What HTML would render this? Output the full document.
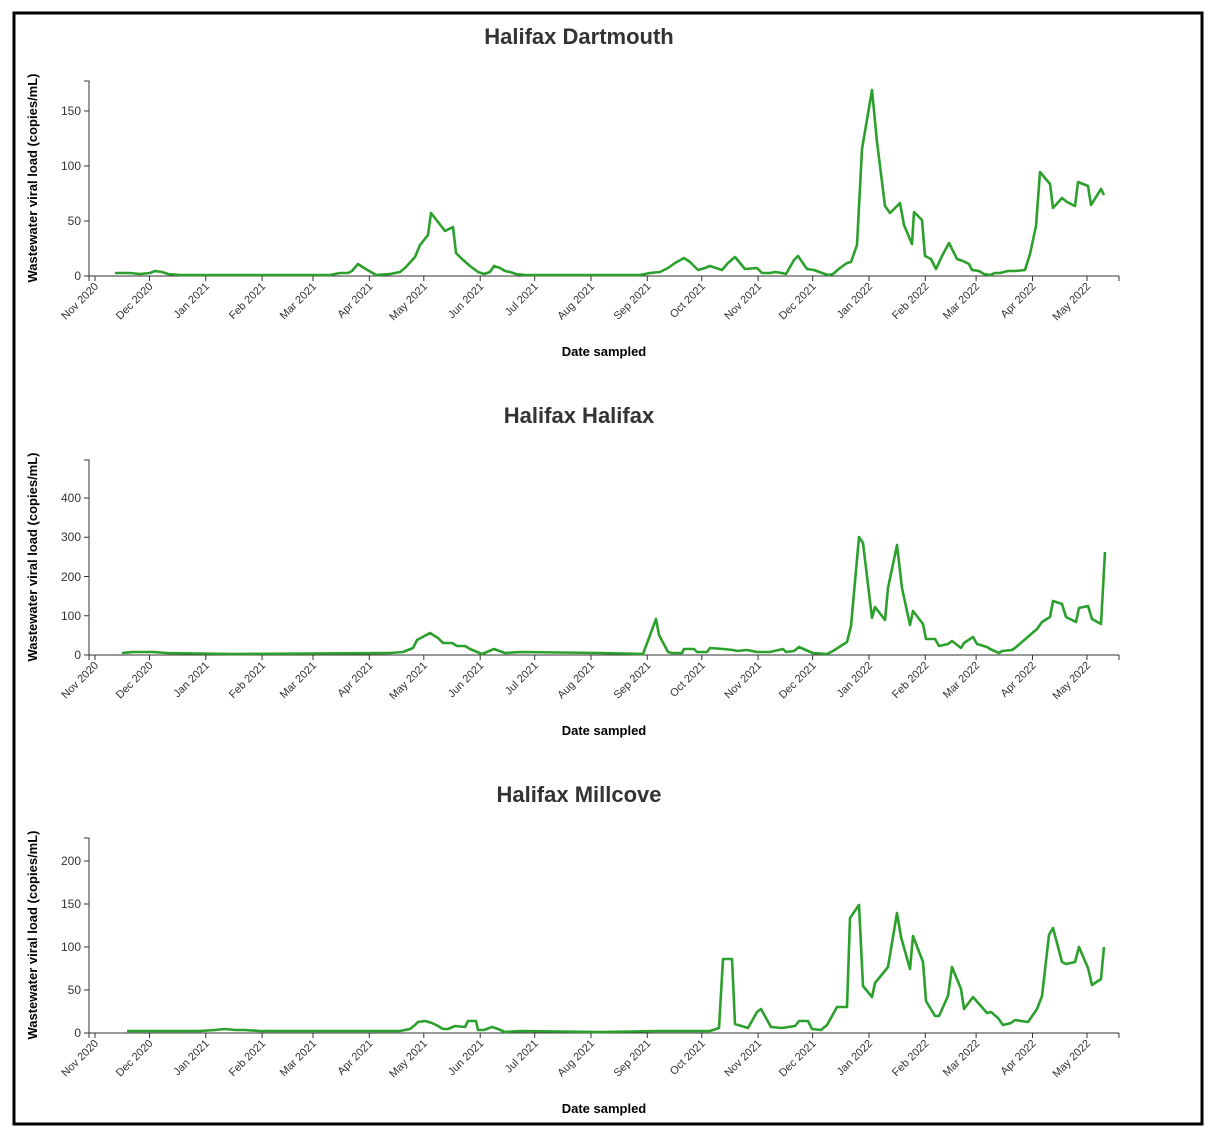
<!DOCTYPE html>
<html><head><meta charset="utf-8"><style>
html,body{margin:0;padding:0;background:#fff;}
svg{display:block;}
.t{font-family:"Liberation Sans",sans-serif;font-weight:bold;font-size:22px;fill:#333;text-anchor:middle;}
.al{font-family:"Liberation Sans",sans-serif;font-weight:bold;font-size:13px;fill:#000;text-anchor:middle;}
.tk{font-family:"Liberation Sans",sans-serif;font-size:11px;fill:#333;}
.yl{font-family:"Liberation Sans",sans-serif;font-size:12px;fill:#333;text-anchor:end;}
.ax{stroke:#333;stroke-width:1;fill:none;}
.ln{fill:none;stroke:#2ca02c;stroke-width:2.6;stroke-linejoin:round;}
</style></head><body>
<svg width="1218" height="1134" viewBox="0 0 1218 1134">
<rect x="14" y="13" width="1188" height="1111" fill="#fff" stroke="#000" stroke-width="3"/>

<defs>
<g id="xax">
<path class="ax" d="M89,276H1119M89,276v5M1119,276v5"/>
<path class="ax" d="M95,276v5M149.5,276v5M205.8,276v5M262.1,276v5M313,276v5M369.3,276v5M423.8,276v5M480.2,276v5M534.7,276v5M591,276v5M647.3,276v5M701.8,276v5M758.1,276v5M812.6,276v5M869,276v5M925.3,276v5M976.1,276v5M1032.5,276v5M1087,276v5"/>
<g class="tk" text-anchor="end">
<text transform="translate(99,287) rotate(-45)">Nov 2020</text>
<text transform="translate(153.5,287) rotate(-45)">Dec 2020</text>
<text transform="translate(209.8,287) rotate(-45)">Jan 2021</text>
<text transform="translate(266.1,287) rotate(-45)">Feb 2021</text>
<text transform="translate(317,287) rotate(-45)">Mar 2021</text>
<text transform="translate(373.3,287) rotate(-45)">Apr 2021</text>
<text transform="translate(427.8,287) rotate(-45)">May 2021</text>
<text transform="translate(484.2,287) rotate(-45)">Jun 2021</text>
<text transform="translate(538.7,287) rotate(-45)">Jul 2021</text>
<text transform="translate(595,287) rotate(-45)">Aug 2021</text>
<text transform="translate(651.3,287) rotate(-45)">Sep 2021</text>
<text transform="translate(705.8,287) rotate(-45)">Oct 2021</text>
<text transform="translate(762.1,287) rotate(-45)">Nov 2021</text>
<text transform="translate(816.6,287) rotate(-45)">Dec 2021</text>
<text transform="translate(873,287) rotate(-45)">Jan 2022</text>
<text transform="translate(929.3,287) rotate(-45)">Feb 2022</text>
<text transform="translate(980.1,287) rotate(-45)">Mar 2022</text>
<text transform="translate(1036.5,287) rotate(-45)">Apr 2022</text>
<text transform="translate(1091,287) rotate(-45)">May 2022</text>
</g>
<text class="al" x="604" y="356">Date sampled</text>
<text class="al" transform="translate(37,178) rotate(-90)">Wastewater viral load (copies/mL)</text>
</g>
</defs>

<!-- Chart 1 -->
<text class="t" x="579" y="44">Halifax Dartmouth</text>
<use href="#xax"/>
<path class="ax" d="M84,81H89V276H84M84,221H89M84,166H89M84,111H89"/>
<g class="yl"><text x="81" y="280">0</text><text x="81" y="225">50</text><text x="81" y="170">100</text><text x="81" y="115">150</text></g>
<polyline class="ln" points="115,273 130,273 140,274 150,273 155,271 162,272 168,274 180,275 330,275 340,273 348,273 352,271 358,264 364,268 376,275 390,274 400,272 405,268 415,257 420,245 428,235 431,213 438,222 445,231 453,227 456,253 462,259 470,266 478,272 484,274 490,272 494,266 500,268 505,271 510,272 516,274 525,275 640,275 650,273 660,272 668,268 675,263 684,258 690,262 698,270 705,268 710,266 716,268 722,270 728,263 735,257 745,269 757,268 762,273 770,273 775,272 782,273 786,274 794,260 798,256 807,269 814,270 822,273 828,275 833,274 840,268 847,263 851,262 857,245 862,149 872,90 877,142 885,206 890,213 900,203 904,225 912,244 914,212 922,220 925,256 931,259 936,269 942,256 949,243 957,259 963,261 969,264 972,270 979,271 984,274 990,275 995,273 1000,273 1008,271 1015,271 1025,270 1030,254 1036,226 1040,172 1045,178 1050,184 1053,208 1062,198 1067,202 1075,206 1078,182 1088,186 1091,205 1101,189 1104,195"/>

<!-- Chart 2 -->
<text class="t" x="579" y="423">Halifax Halifax</text>
<use href="#xax" transform="translate(0,379)"/>
<path class="ax" d="M84,460H89V655H84M84,615.75H89M84,576.5H89M84,537.25H89M84,498H89"/>
<g class="yl"><text x="81" y="659">0</text><text x="81" y="620">100</text><text x="81" y="581">200</text><text x="81" y="541">300</text><text x="81" y="502">400</text></g>
<polyline class="ln" points="122,653 133,652 153,652 167,653 233,654 390,653 403,652 413,648 417,640 430,633 438,638 443,643 452,643 457,646 465,646 470,649 482,654 494,649 505,653 520,652 600,653 643,654 656,619 659,635 668,652 672,653 682,653 684,649 694,649 697,652 707,652 710,648 723,649 733,650 737,651 747,650 757,652 770,652 783,649 786,652 794,651 799,647 808,651 813,653 827,654 833,651 847,642 851,626 859,537 863,543 872,618 875,607 885,620 888,588 897,545 902,588 910,625 913,611 923,624 926,639 935,639 939,646 948,644 952,641 961,648 964,643 973,637 977,644 987,647 990,649 999,653 1002,651 1012,650 1015,648 1037,629 1042,622 1050,617 1053,601 1062,604 1066,617 1076,622 1079,608 1088,606 1092,619 1101,624 1105,552"/>

<!-- Chart 3 -->
<text class="t" x="579" y="802">Halifax Millcove</text>
<use href="#xax" transform="translate(0,757)"/>
<path class="ax" d="M84,838H89V1033H84M84,990H89M84,947H89M84,904H89M84,861H89"/>
<g class="yl"><text x="81" y="1037">0</text><text x="81" y="994">50</text><text x="81" y="951">100</text><text x="81" y="908">150</text><text x="81" y="865">200</text></g>
<polyline class="ln" points="127,1031 200,1031 215,1030 225,1029 235,1030 245,1030 260,1031 400,1031 410,1029 415,1025 418,1022 425,1021 432,1023 438,1026 443,1029 448,1029 455,1026 465,1027 468,1021 476,1021 478,1030 484,1030 492,1027 498,1029 505,1032 520,1031 600,1032 657,1031 710,1031 719,1028 723,959 732,959 735,1024 748,1028 757,1012 761,1009 771,1027 782,1028 795,1026 799,1021 808,1021 812,1029 821,1030 827,1025 837,1007 847,1007 850,918 859,905 863,986 872,997 875,983 888,967 897,913 901,937 910,969 913,936 923,962 926,1001 935,1016 939,1016 948,996 952,967 961,989 964,1009 973,997 987,1013 991,1012 998,1018 1003,1025 1011,1023 1015,1020 1028,1022 1037,1009 1042,996 1049,935 1053,928 1062,962 1066,964 1075,962 1079,947 1088,968 1092,985 1101,979 1104,947"/>
</svg>
</body></html>
